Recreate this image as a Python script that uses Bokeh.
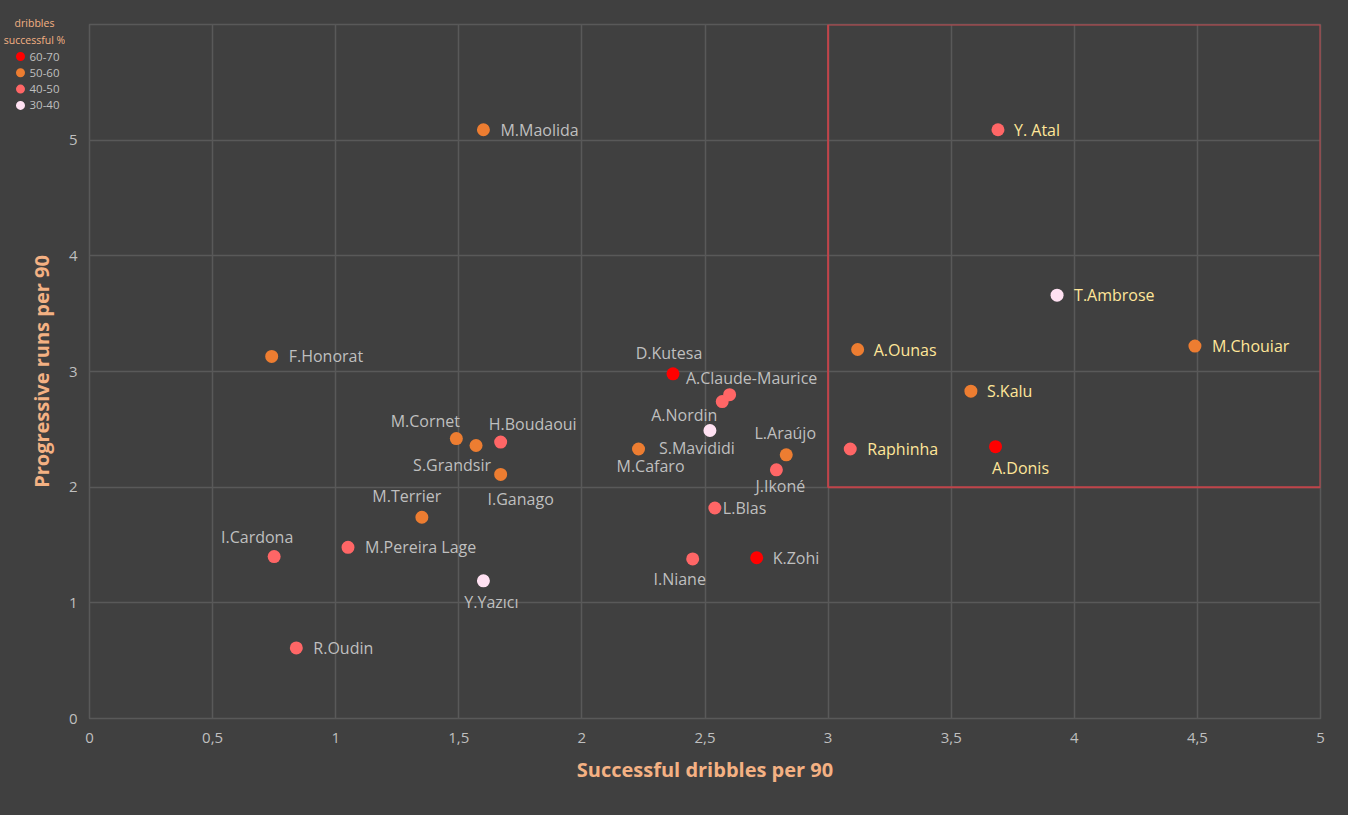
import math
from bokeh.plotting import figure
from bokeh.layouts import row
from bokeh.models import ColumnDataSource, Range1d, FixedTicker, Label
from bokeh.core.properties import value
from bokeh.embed import file_html
from bokeh.resources import INLINE

# ---------------- data ----------------
players = ["M.Maolida", "Y. Atal", "T.Ambrose", "M.Chouiar", "A.Ounas", "S.Kalu",
           "Raphinha", "A.Donis", "F.Honorat", "D.Kutesa", "A.Claude-Maurice", "A.Nordin",
           "S.Mavididi", "M.Cafaro", "L.Araújo", "J.Ikoné", "L.Blas", "I.Niane", "K.Zohi",
           "M.Cornet", "S.Grandsir", "H.Boudaoui", "I.Ganago", "M.Terrier", "I.Cardona",
           "M.Pereira Lage", "Y.Yazıcı", "R.Oudin"]
dribbles = [1.60, 3.69, 3.93, 4.49, 3.12, 3.58,
            3.09, 3.68, 0.74, 2.37, 2.60, 2.57,
            2.52, 2.23, 2.83, 2.79, 2.54, 2.45, 2.71,
            1.49, 1.57, 1.67, 1.67, 1.35, 0.75,
            1.05, 1.60, 0.84]
prog_runs = [5.09, 5.09, 3.66, 3.22, 3.19, 2.83,
             2.33, 2.35, 3.13, 2.98, 2.80, 2.74,
             2.49, 2.33, 2.28, 2.15, 1.82, 1.38, 1.39,
             2.42, 2.36, 2.39, 2.11, 1.74, 1.40,
             1.48, 1.19, 0.61]
pct_band = ["50-60", "40-50", "30-40", "50-60", "50-60", "50-60",
            "40-50", "60-70", "50-60", "60-70", "40-50", "40-50",
            "30-40", "50-60", "50-60", "40-50", "40-50", "40-50", "60-70",
            "50-60", "50-60", "40-50", "50-60", "50-60", "40-50",
            "40-50", "30-40", "40-50"]

band_labels = ["60-70", "50-60", "40-50", "30-40"]
legend_title = ["dribbles", "successful %"]
x_ticks = [0, 0.5, 1, 1.5, 2, 2.5, 3, 3.5, 4, 4.5, 5]
y_ticks = [0, 1, 2, 3, 4, 5, 6]
box_x = [3, 5]
box_y = [2, 6]

# ---------------- styles ----------------
band_colors = {"60-70": "#FF0000", "50-60": "#ED7D31", "40-50": "#FF6666", "30-40": "#FFE1F2"}
label_pos = {
    "M.Maolida": (17, 0, "left"), "Y. Atal": (16, 0, "left"), "T.Ambrose": (17, 0, "left"),
    "M.Chouiar": (17, 0, "left"), "A.Ounas": (16, 0, "left"), "S.Kalu": (16, 0, "left"),
    "Raphinha": (17, 0, "left"), "A.Donis": (25, 21, "center"), "F.Honorat": (17, 0, "left"),
    "D.Kutesa": (-4, -21, "center"), "A.Claude-Maurice": (22, -17, "center"),
    "A.Nordin": (-38, 13, "center"), "S.Mavididi": (-13, 18, "center"),
    "M.Cafaro": (12, 17, "center"), "L.Araújo": (-1, -22, "center"),
    "J.Ikoné": (4, 16, "center"), "L.Blas": (8, 0, "left"), "I.Niane": (-13, 20, "center"),
    "K.Zohi": (16, 0, "left"), "M.Cornet": (-31, -18, "center"),
    "S.Grandsir": (-24, 19, "center"), "H.Boudaoui": (32, -18, "center"),
    "I.Ganago": (20, 25, "center"), "M.Terrier": (-15, -21, "center"),
    "I.Cardona": (-17, -20, "center"), "M.Pereira Lage": (17, 0, "left"),
    "Y.Yazıcı": (8, 21, "center"), "R.Oudin": (17, 0, "left"),
}

BG = "#404040"
GRID = "#595959"
TICK = "#BFBFBF"
TITLE = "#F4B183"
FONT = "Open Sans"
W, H = 1348, 815
LW = 65           # width of the left strip (legend + y title)

# ---------------- main plot ----------------
p = figure(width=W - LW, height=H, output_backend="svg", toolbar_location=None,
           x_range=Range1d(0, 5), y_range=Range1d(0, 6), frame_align=False,
           min_border_left=20, min_border_right=28, min_border_top=24, min_border_bottom=97,
           background_fill_color=BG, border_fill_color=BG,
           outline_line_color=GRID, outline_line_width=1.5)

for ax in (p.xaxis[0], p.yaxis[0]):
    ax.axis_line_color = None
    ax.major_tick_line_color = None
    ax.minor_tick_line_color = None
    ax.major_tick_out = 0
    ax.major_tick_in = 0
    ax.minor_tick_out = 0
    ax.major_label_text_color = TICK
    ax.major_label_text_font = FONT
    ax.major_label_text_font_size = "15px"
    ax.axis_label_text_color = TITLE
    ax.axis_label_text_font = FONT
    ax.axis_label_text_font_style = "bold"
    ax.axis_label_text_font_size = "20px"

p.xaxis.ticker = FixedTicker(ticks=x_ticks)
p.yaxis.ticker = FixedTicker(ticks=y_ticks)
p.xaxis.major_label_overrides = {t: (str(t).replace(".", ",") if t % 1 else str(int(t))) for t in x_ticks}
p.yaxis.major_label_overrides = {t: ("" if t == 6 else str(t)) for t in y_ticks}
p.xaxis.axis_label = "Successful dribbles per 90"
p.xaxis.major_label_standoff = 14
p.yaxis.major_label_standoff = 12
p.xaxis.axis_label_standoff = 10

p.xgrid.grid_line_color = GRID
p.ygrid.grid_line_color = GRID
p.xgrid.grid_line_width = 1.5
p.ygrid.grid_line_width = 1.5

# red highlight box
p.quad(left=[box_x[0]], right=[box_x[1]], bottom=[box_y[0]], top=[box_y[1]],
       fill_color=None, line_color="#C0444A", line_width=2)

# points per band
for band in band_labels:
    idx = [i for i, b in enumerate(pct_band) if b == band]
    src = ColumnDataSource(dict(x=[dribbles[i] for i in idx], y=[prog_runs[i] for i in idx]))
    p.scatter("x", "y", source=src, size=13, fill_color=band_colors[band], line_color=None)

# point labels
lx, ly, lt, dx, dy, al, col = [], [], [], [], [], [], []
for i, name in enumerate(players):
    ox, oy, a = label_pos[name]
    lx.append(dribbles[i]); ly.append(prog_runs[i]); lt.append(name)
    dx.append(ox); dy.append(oy); al.append(a)
    inside = box_x[0] <= dribbles[i] <= box_x[1] and box_y[0] <= prog_runs[i] <= box_y[1]
    col.append("#FFE699" if inside else TICK)
lsrc = ColumnDataSource(dict(x=lx, y=ly, text=lt, dx=dx, dy=dy, align=al, color=col))
p.text("x", "y", text="text", source=lsrc, x_offset="dx", y_offset="dy",
       text_align="align", text_baseline="middle", text_color="color",
       text_font=value(FONT), text_font_size="16px")

# ---------------- left strip: legend + y-axis title (pixel coordinates) ----------------
s = figure(width=LW, height=H, output_backend="svg", toolbar_location=None,
           x_range=Range1d(0, LW), y_range=Range1d(0, H), frame_align=False,
           x_axis_type=None, y_axis_type=None,
           min_border=0, min_border_left=0, min_border_right=0,
           min_border_top=0, min_border_bottom=0,
           background_fill_color=BG, border_fill_color=BG, outline_line_color=None)

ROW0, PITCH = 56, 16.3
key_y = [H - ROW0 - PITCH * k for k in range(len(band_labels))]
s.scatter(x=[20] * len(band_labels), y=key_y, size=9,
          fill_color=[band_colors[b] for b in band_labels], line_color=None)
s.text(x=[29] * len(band_labels), y=key_y, text=band_labels, text_align="left",
       text_baseline="middle", text_color=TICK, text_font=value(FONT),
       text_font_size="11.5px")

for k, txt in enumerate(legend_title):
    s.add_layout(Label(x=34, y=H - 22 - 17 * k, text=txt, text_align="center",
                       text_baseline="middle", text_color=TITLE, text_font=FONT,
                       text_font_size="10.5px"))

s.add_layout(Label(x=41, y=H - 371, text="Progressive runs per 90", angle=math.pi / 2,
                   text_align="center", text_baseline="middle", text_color=TITLE,
                   text_font=FONT, text_font_style="bold", text_font_size="20px"))

layout = row(s, p, spacing=0, styles={"background-color": BG})
open("out.html", "w").write(file_html(layout, INLINE))
